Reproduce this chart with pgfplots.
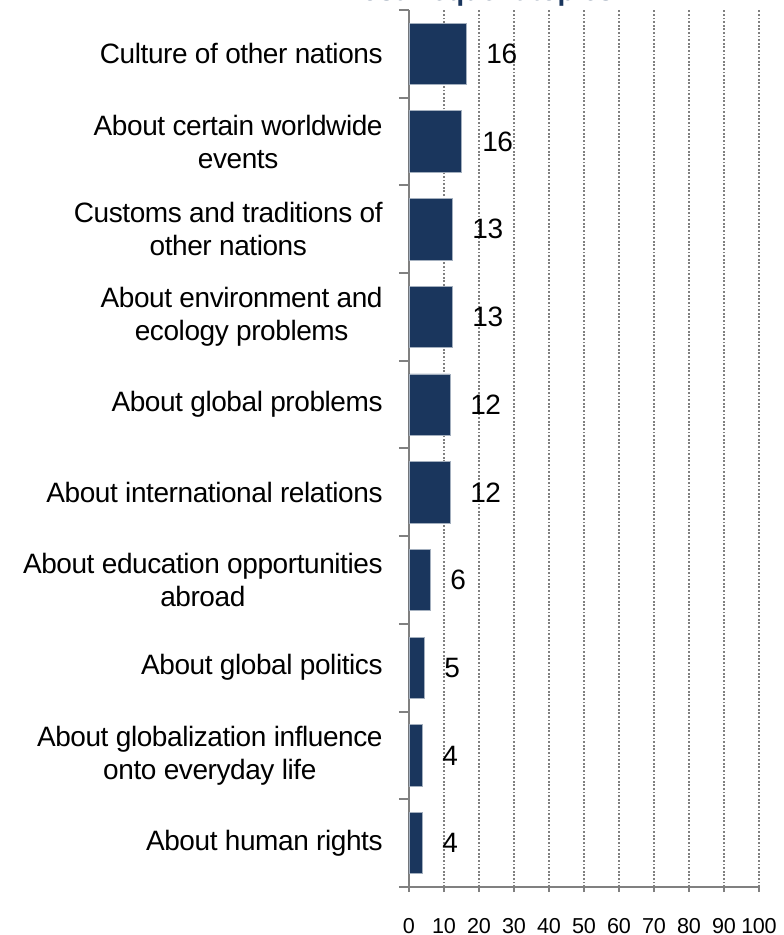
\documentclass[border=0pt]{standalone}
\usepackage{fontspec}
\setmainfont{Liberation Sans}
\newfontfamily\lblfont[LetterSpace=-1.5]{Liberation Sans}
\usepackage{pgfplots}
\pgfplotsset{compat=1.18}
\definecolor{barblue}{RGB}{26,54,93}
\pgfplotstableread{
y lab x
9 16 16.3
8 16 15.1
7 13 12.3
6 13 12.3
5 12 11.7
4 12 11.7
3 6 6.0
2 5 4.3
1 4 3.7
0 4 3.7
}\datatable
\begin{document}
\begin{tikzpicture}
\begin{axis}[
  at={(0,0)}, anchor=south west,
  scale only axis, width=175pt, height=438.5pt,
  xbar, bar width=0.7,
  xmin=0, xmax=100, ymin=-0.5, ymax=9.5,
  axis x line*=bottom, axis y line*=left,
  axis line style={draw=gray, line width=1pt},
  xtick={0,10,...,100},
  xmajorgrids, major grid style={draw=gray, line width=0.9pt, dash pattern=on 0.9pt off 0.9pt},
  tick align=outside,
  major tick length=2.5pt,
  xtick style={draw=gray, line width=1pt},
  xticklabel style={font=\lblfont\fontsize{10.8}{12}\selectfont, inner sep=0pt, anchor=north, yshift=-12.8pt},
  /pgf/number format/assume math mode=true,
  ytick={0,...,9},
  yticklabels={{About human rights},
    {About globalization influence\\onto everyday life},
    {About global politics},
    {About education opportunities\\abroad},
    {About international relations},
    {About global problems},
    {About environment and\\ecology problems},
    {Customs and traditions of\\other nations},
    {About certain worldwide\\events},
    {Culture of other nations}},
  ytick style={draw=none},
  yticklabel style={font=\lblfont\fontsize{14}{16.5}\selectfont, align=center, inner sep=0pt, anchor=east, xshift=-10.5pt},
  extra y ticks={-0.5,0.5,...,9.5},
  extra y tick labels={},
  extra y tick style={major tick length=5pt, ytick style={draw=gray, line width=1pt}},
  nodes near coords,
  point meta=explicit symbolic,
  nodes near coords style={font=\lblfont\fontsize{14}{16.5}\selectfont, anchor=west, inner xsep=0pt, xshift=10pt},
  clip=false,
]
\addplot[fill=barblue, draw=barblue!40!white, line width=0.4pt] table[x=x, y=y, meta=lab] {\datatable};
\end{axis}
\node[anchor=base, font=\fontsize{14}{16}\selectfont\bfseries, text=barblue] at (33.5pt,443pt) {Most frequent topics};
\pgfresetboundingbox
\path[use as bounding box] (-204.5pt,-24pt) rectangle (187pt,443.5pt);
\end{tikzpicture}
\end{document}
